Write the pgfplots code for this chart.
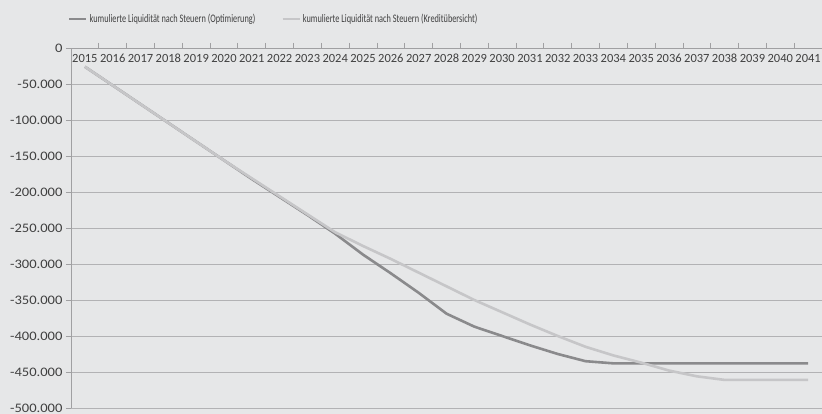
\documentclass[border=0pt]{standalone}
\usepackage{fontspec}
\setmainfont{Carlito}
\newfontfamily\ylabfont[FakeStretch=1.12]{Carlito}
\newfontfamily\legfont[FakeStretch=0.72]{Carlito}
\usepackage{pgfplots}
\usepackage{pgfplotstable}
\pgfplotsset{compat=1.18}

\definecolor{bg}{RGB}{230,231,232}
\definecolor{gridc}{RGB}{178,178,180}
\definecolor{axisc}{RGB}{160,160,162}
\definecolor{txt}{RGB}{64,64,64}
\definecolor{darkline}{RGB}{138,138,140}
\definecolor{lightline}{RGB}{198,198,200}

% year index (0 = 2015), Optimierung, Kreditübersicht
\pgfplotstableread{
idx opt kred
0 -26000 -26000
1 -52000 -52000
2 -78000 -78000
3 -104000 -104000
4 -130000 -130000
5 -156000 -156000
6 -182000 -181000
7 -207000 -206000
8 -232000 -231000
9 -258000 -256000
10 -287000 -275000
11 -313000 -293000
12 -340000 -312000
13 -369000 -331000
14 -387000 -350000
15 -400000 -367000
16 -413000 -384000
17 -425000 -400000
18 -435000 -415000
19 -438000 -427000
20 -438000 -437000
21 -438000 -448000
22 -438000 -456000
23 -438000 -461000
24 -438000 -461000
25 -438000 -461000
26 -438000 -461000
}\liq

\begin{document}
\begin{tikzpicture}[x=1pt,y=1pt]
\fill[bg] (0,0) rectangle (822,414);
\begin{axis}[
    at={(71pt,6pt)}, anchor=south west,
    scale only axis,
    width=751pt, height=360pt,
    xmin=-0.5, xmax=26.5,
    ymin=-500000, ymax=0,
    axis x line*=top,
    axis y line*=left,
    axis line style={axisc, line width=0.8pt},
    xtick={0,...,26},
    xticklabels={2015,2016,2017,2018,2019,2020,2021,2022,2023,2024,2025,2026,2027,2028,2029,2030,2031,2032,2033,2034,2035,2036,2037,2038,2039,2040,2041},
    minor xtick={0.5,1.5,...,25.5},
    major x tick style={draw=none},
    minor x tick style={axisc, line width=0.8pt},
    minor tick length=5pt,
    x tick label style={font=\fontsize{12.5}{14}\selectfont, text=txt, anchor=north,
        text height=8.5pt, text depth=0pt, yshift=-7pt},
    ytick={-500000,-450000,...,0},
    scaled y ticks=false,
    y tick style={axisc, line width=0.8pt},
    major tick length=5pt,
    tick align=outside,
    y tick label style={font=\ylabfont\fontsize{13}{14}\selectfont, text=txt},
    yticklabel={\pgfmathprintnumber[fixed, 1000 sep={.}, assume math mode=true]{\tick}},
    ymajorgrids,
    grid style={gridc, line width=0.9pt},
    legend columns=2,
    legend style={at={(0.27,1.08)}, anchor=center, draw=none, fill=none,
        font=\legfont\fontsize{11.5}{13}\selectfont, text=txt,
        /tikz/every even column/.append style={column sep=24pt}},
    legend image code/.code={\draw[#1, line width=2.6pt] (0pt,0pt) -- (17pt,0pt);},
]
\addplot[darkline, line width=2.6pt] table[x=idx, y=opt] {\liq};
\addlegendentry{kumulierte Liquidität nach Steuern (Optimierung)}
\addplot[lightline, line width=2.6pt] table[x=idx, y=kred] {\liq};
\addlegendentry{kumulierte Liquidität nach Steuern (Kreditübersicht)}
\end{axis}
\pgfresetboundingbox
\path (0,0) rectangle (822,414);
\end{tikzpicture}
\end{document}
